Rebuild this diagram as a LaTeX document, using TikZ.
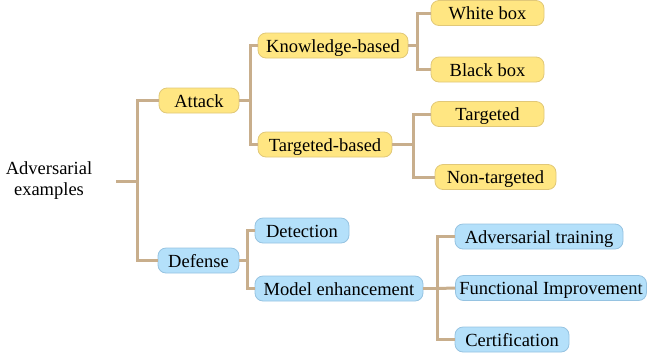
\documentclass[tikz,border=0pt]{standalone}
\usepackage{fontspec}
\newfontfamily\tnr{Liberation Serif}
\definecolor{ylfill}{RGB}{255,230,130}
\definecolor{yldraw}{RGB}{225,200,120}
\definecolor{blfill}{RGB}{180,224,250}
\definecolor{bldraw}{RGB}{150,195,225}
\definecolor{tan}{RGB}{200,174,140}
\tikzset{
  box/.style={rounded corners=8pt, line width=0.8pt, inner sep=0pt, minimum height=25pt,
    text height=13pt, text depth=0pt, font=\tnr\fontsize{18.5}{21}\selectfont},
  ybox/.style={box, fill=ylfill, draw=yldraw},
  bbox/.style={box, fill=blfill, draw=bldraw},
  link/.style={draw=tan, line width=3pt}
}
\begin{document}
\begin{tikzpicture}[x=1pt,y=-1pt]
\useasboundingbox (0,0) rectangle (648,360);
\node[align=center, font=\tnr\fontsize{18.5}{21}\selectfont] (root) at (49,181) {Adversarial\\examples};
\coordinate (r0) at (116,181);
\coordinate (t0) at (137,181);
\node[ybox, minimum width=80pt] (attack) at (199,100.5) {Attack};
\node[bbox, minimum width=81pt] (defense) at (198.5,260.5) {Defense};
\node[ybox, minimum width=150pt] (kb) at (333,45.5) {Knowledge-based};
\node[ybox, minimum width=134pt] (tb) at (325,144.5) {Targeted-based};
\node[ybox, minimum width=113pt] (wb) at (487.5,13) {White box};
\node[ybox, minimum width=113pt] (bb) at (487.5,69.5) {Black box};
\node[ybox, minimum width=113pt] (tg) at (487.5,114) {Targeted};
\node[ybox, minimum width=121pt] (nt) at (495.5,177) {Non-targeted};
\node[bbox, minimum width=94pt] (det) at (302,230.5) {Detection};
\node[bbox, minimum width=168pt] (me) at (339,288.5) {Model enhancement};
\node[bbox, minimum width=168pt] (at) at (539,236.5) {Adversarial training};
\node[bbox, minimum width=191pt] (fi) at (551,288) {Functional Improvement};
\node[bbox, minimum width=114pt] (cert) at (512,339.5) {Certification};
\coordinate (t1) at (250,100.5);
\coordinate (t2) at (417,45.5);
\coordinate (t3) at (413,144.5);
\coordinate (t4) at (247,260.5);
\coordinate (t5) at (437,288.5);
\draw[link] (r0) -- (t0);
\draw[link] (attack.west) -| (t0) |- (defense.west);
\draw[link] (attack.east) -- (t1);
\draw[link] (kb.west) -| (t1) |- (tb.west);
\draw[link] (kb.east) -- (t2);
\draw[link] (wb.west) -| (t2) |- (bb.west);
\draw[link] (tb.east) -- (t3);
\draw[link] (tg.west) -| (t3) |- (nt.west);
\draw[link] (defense.east) -- (t4);
\draw[link] (det.west) -| (t4) |- (me.west);
\draw[link] (me.east) -- (t5);
\draw[link] (at.west) -| (t5) |- (cert.west);
\draw[link] (t5) -- (fi.west);
\end{tikzpicture}
\end{document}
